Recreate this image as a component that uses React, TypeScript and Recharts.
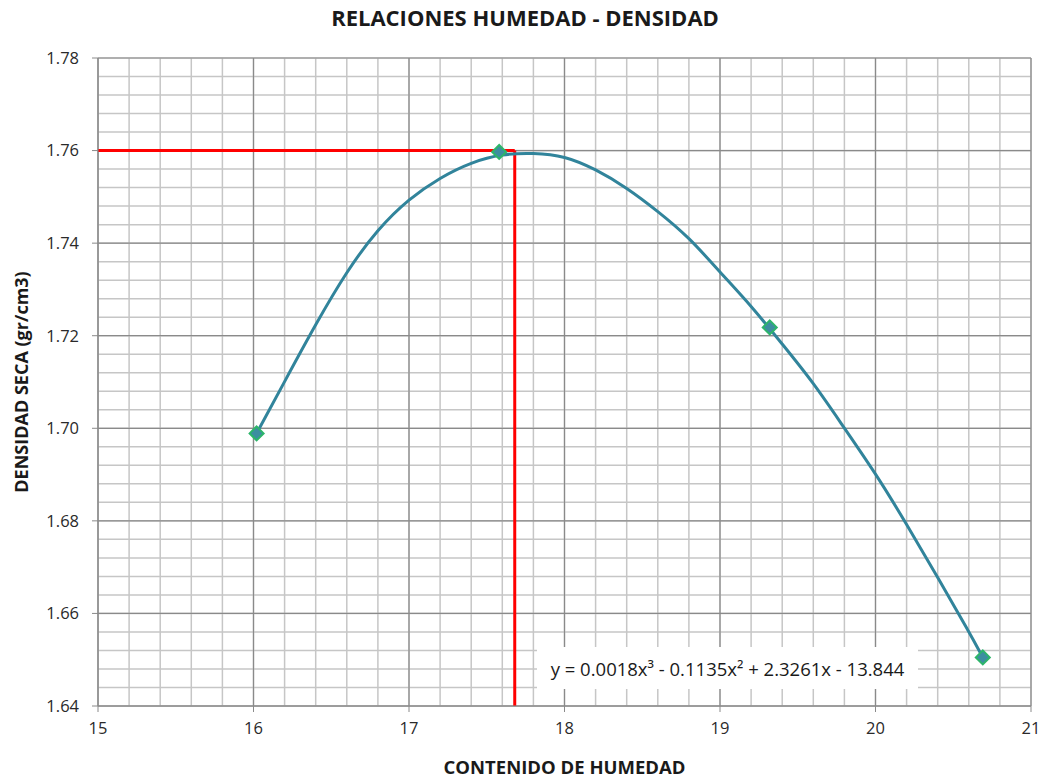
import React from 'react';
import {
  ComposedChart, Line, Scatter, XAxis, YAxis, CartesianGrid, ReferenceLine, Label,
} from 'recharts';

// measured points (contenido de humedad %, densidad seca gr/cm3)
const humedad = [16.02, 17.58, 19.32, 20.69];
const densidad = [1.6989, 1.7597, 1.7218, 1.6505];

// polynomial trend line
const trendX = [16.02, 16.2, 16.4, 16.6, 16.8, 17.0, 17.2, 17.4, 17.6, 17.8, 18.0, 18.2, 18.4, 18.6, 18.8, 19.0, 19.2, 19.4, 19.6, 19.8, 20.0, 20.2, 20.4, 20.6, 20.69];
const trendY = [1.6989, 1.7101, 1.7225, 1.734, 1.7431, 1.7496, 1.7542, 1.7575, 1.7593, 1.7595, 1.7589, 1.756, 1.752, 1.7469, 1.7413, 1.7337, 1.7265, 1.7182, 1.7099, 1.700, 1.6903, 1.6793, 1.6678, 1.6561, 1.6505];

// optimum marked with the red lines
const humedadOptima = 17.68;
const densidadMax = 1.76;

const xTicks = [15, 16, 17, 18, 19, 20, 21];
const yTicks = [1.64, 1.66, 1.68, 1.70, 1.72, 1.74, 1.76, 1.78];
const xMinor = Array.from({ length: 31 }, (_, i) => +(15 + i * 0.2).toFixed(1));
const yMinor = Array.from({ length: 36 }, (_, i) => +(1.64 + i * 0.004).toFixed(3));

const FONT = '"Open Sans", sans-serif';

const points = humedad.map((x, i) => ({ x, y: densidad[i] }));
const trend = trendX.map((x, i) => ({ x, y: trendY[i] }));

const Diamond = (props: any) => {
  const { cx, cy } = props;
  const r = 7;
  return (
    <polygon
      points={`${cx},${cy - r} ${cx + r},${cy} ${cx},${cy + r} ${cx - r},${cy}`}
      fill="#3d8ea0"
      stroke="#2db56a"
      strokeWidth={2}
    />
  );
};

export default function App() {
  return (
    <div style={{ position: 'relative', width: 1043, height: 780, fontFamily: FONT }}>
      <style>{'body{margin:0}'}</style>
      <div style={{ position: 'absolute', top: 2, left: 0, width: 1050, textAlign: 'center', fontWeight: 700, fontSize: 22, color: '#1a1a1a' }}>
        RELACIONES HUMEDAD - DENSIDAD
      </div>
      <ComposedChart width={1043} height={780} margin={{ top: 58, right: 12, bottom: 0, left: 0 }}>
        <CartesianGrid horizontalValues={yMinor} verticalValues={xMinor} stroke="#c6c6c6" strokeWidth={1.5} />
        <CartesianGrid horizontalValues={yTicks} verticalValues={xTicks} stroke="#8a8a8a" strokeWidth={1.2} />
        <XAxis
          type="number"
          dataKey="x"
          domain={[15, 21]}
          ticks={xTicks}
          interval={0}
          height={74}
          stroke="#8a8a8a"
          tickSize={6}
          tick={{ fill: '#2a2a2a', fontSize: 16.5, fontFamily: FONT }}
          tickMargin={10}
        >
          <Label value="CONTENIDO DE HUMEDAD" position="insideBottom" offset={6} style={{ fontWeight: 700, fontSize: 18.5, fill: '#1a1a1a', fontFamily: FONT }} />
        </XAxis>
        <YAxis
          type="number"
          dataKey="y"
          domain={[1.64, 1.78]}
          ticks={yTicks}
          interval={0}
          width={98}
          stroke="#8a8a8a"
          tickSize={6}
          tickFormatter={(v: number) => v.toFixed(2)}
          tick={{ fill: '#2a2a2a', fontSize: 16.5, fontFamily: FONT }}
          tickMargin={13}
        >
          <Label value="DENSIDAD SECA (gr/cm3)" angle={-90} position="insideLeft" offset={22} style={{ textAnchor: 'middle', fontWeight: 700, fontSize: 18, fill: '#1a1a1a', fontFamily: FONT }} />
        </YAxis>
        <ReferenceLine segment={[{ x: 15, y: densidadMax }, { x: humedadOptima, y: densidadMax }]} stroke="#ff0000" strokeWidth={3} />
        <ReferenceLine segment={[{ x: humedadOptima, y: densidadMax }, { x: humedadOptima, y: 1.64 }]} stroke="#ff0000" strokeWidth={3} />
        <Line data={trend} dataKey="y" type="basis" stroke="#31849b" strokeWidth={3} dot={false} activeDot={false} isAnimationActive={false} />
        <Scatter data={points} dataKey="y" shape={<Diamond />} isAnimationActive={false} />
      </ComposedChart>
      <div style={{ position: 'absolute', left: 537, top: 647, width: 381, height: 42, background: '#fff', display: 'flex', alignItems: 'center', justifyContent: 'center', fontSize: 18.5, color: '#1a1a1a', whiteSpace: 'nowrap' }}>
        y = 0.0018x³ - 0.1135x² + 2.3261x - 13.844
      </div>
    </div>
  );
}
